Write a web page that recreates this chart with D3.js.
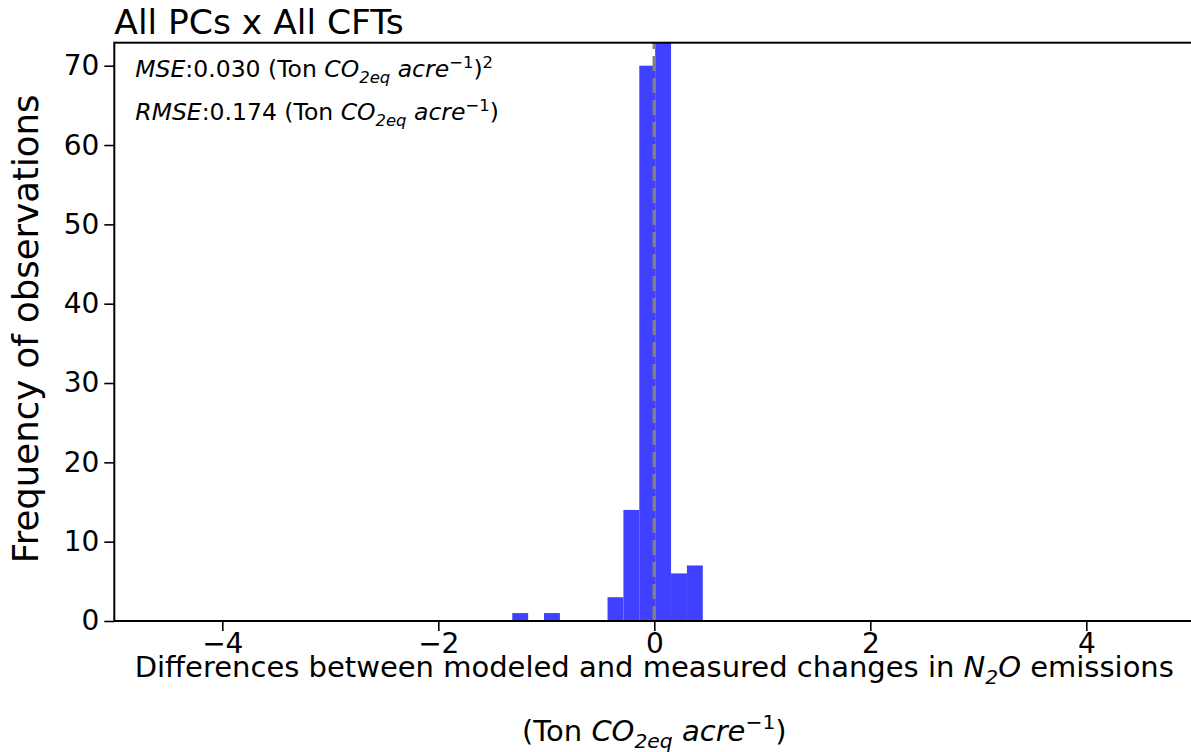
<!DOCTYPE html>
<html>
<head>
<meta charset="utf-8">
<script src="https://cdn.jsdelivr.net/npm/d3@7"></script>
<style>
  body { margin: 0; background: #fff; }
  svg { font-family: "DejaVu Sans", sans-serif; }
</style>
</head>
<body>
<script>
// histogram data (bin edges + counts)
const binEdges = [-1.315, -1.168, -1.021, -0.874, -0.727, -0.580, -0.433, -0.286, -0.139, 0.008, 0.155, 0.302, 0.449];
const counts = [1, 0, 1, 0, 0, 0, 3, 14, 70, 74, 6, 7];
const xTicks = [-4, -2, 0, 2, 4];
const yTicks = [0, 10, 20, 30, 40, 50, 60, 70];
const xDomain = [-5, 5];
const yDomain = [0, 72.9];

const width = 1191;
const height = 752;
const margin = {left: 114.3, top: 42.7};
const plotW = 1080;
const plotH = 578.3;

const bins = counts.map((c, i) => ({x0: binEdges[i], x1: binEdges[i + 1], count: c}));

const svg = d3.select("body").append("svg")
    .attr("width", width)
    .attr("height", height);

const x = d3.scaleLinear().domain(xDomain).range([0, plotW]);
const y = d3.scaleLinear().domain(yDomain).range([plotH, 0]);

svg.append("defs").append("clipPath").attr("id", "clip")
    .append("rect").attr("width", plotW).attr("height", plotH);

const g = svg.append("g").attr("transform", `translate(${margin.left},${margin.top})`);

//bars
g.append("g").attr("clip-path", "url(#clip)")
    .selectAll("rect")
    .data(bins.filter(d => d.count > 0))
    .join("rect")
    .attr("x", d => x(d.x0))
    .attr("y", d => y(d.count))
    .attr("width", d => x(d.x1) - x(d.x0))
    .attr("height", d => plotH - y(d.count))
    .attr("fill", "#4040ff");

//zero line
g.append("line")
    .attr("x1", x(0)).attr("x2", x(0))
    .attr("y1", plotH).attr("y2", 0)
    .attr("stroke", "#808080")
    .attr("stroke-width", 3.5)
    .attr("stroke-dasharray", "15,7");

//axes
const xAxis = d3.axisBottom(x).tickValues(xTicks).tickSize(10).tickPadding(2);
const yAxis = d3.axisLeft(y).tickValues(yTicks).tickSize(10).tickPadding(5);

const gx = g.append("g").attr("transform", `translate(0,${plotH})`).call(xAxis);
const gy = g.append("g").call(yAxis);
[gx, gy].forEach(a => {
    a.select(".domain").remove();
    a.selectAll("line").attr("stroke", "#000").attr("stroke-width", 1.6);
    a.selectAll("text").attr("font-size", 28).attr("fill", "#000")
        .attr("font-family", "DejaVu Sans");
});

//spines
g.append("rect")
    .attr("width", plotW).attr("height", plotH)
    .attr("fill", "none").attr("stroke", "#000").attr("stroke-width", 2);

// mathtext-ish helper
function richText(sel, parts, size) {
    let shift = 0;
    parts.forEach(p => {
        const ts = sel.append("tspan").text(p.t);
        let target = 0;
        if (p.sub) target = size * 0.25;
        if (p.sup) target = -size * 0.4;
        if (target !== shift) ts.attr("dy", target - shift);
        shift = target;
        if (p.sub || p.sup) ts.attr("font-size", size * 0.7);
        if (p.i) ts.attr("font-style", "italic");
    });
}

const unit = [
    {t: "(Ton "}, {t: "CO", i: true}, {t: "2eq", i: true, sub: true},
    {t: " acre", i: true}, {t: "\u22121", sup: true}, {t: ")"}
];

const annSize = 23.5;
const t1 = g.append("text").attr("x", 21).attr("y", 77 - margin.top)
    .attr("font-size", annSize).attr("fill", "#000");
richText(t1, [{t: "MSE", i: true}, {t: ":0.030 "}].concat(unit).concat([{t: "2", sup: true}]), annSize);

const t2 = g.append("text").attr("x", 21).attr("y", 120 - margin.top)
    .attr("font-size", annSize).attr("fill", "#000");
richText(t2, [{t: "RMSE", i: true}, {t: ":0.174 "}].concat(unit), annSize);

//title
svg.append("text")
    .attr("x", margin.left).attr("y", 34)
    .attr("font-size", 34.5).attr("fill", "#000")
    .text("All PCs x All CFTs");

//y label
svg.append("text")
    .attr("transform", `translate(38,${margin.top + plotH / 2 - 3}) rotate(-90)`)
    .attr("text-anchor", "middle")
    .attr("font-size", 35.5).attr("fill", "#000")
    .text("Frequency of observations");

//x label (two lines)
const lbl = 29;
const xl1 = svg.append("text")
    .attr("x", margin.left + x(0)).attr("y", 677)
    .attr("text-anchor", "middle").attr("font-size", lbl).attr("fill", "#000");
richText(xl1, [
    {t: "Differences between modeled and measured changes in "},
    {t: "N", i: true}, {t: "2", i: true, sub: true}, {t: "O", i: true},
    {t: " emissions"}
], lbl);

const xl2 = svg.append("text")
    .attr("x", margin.left + x(0)).attr("y", 741)
    .attr("text-anchor", "middle").attr("font-size", lbl).attr("fill", "#000");
richText(xl2, unit, lbl);
</script>
</body>
</html>
